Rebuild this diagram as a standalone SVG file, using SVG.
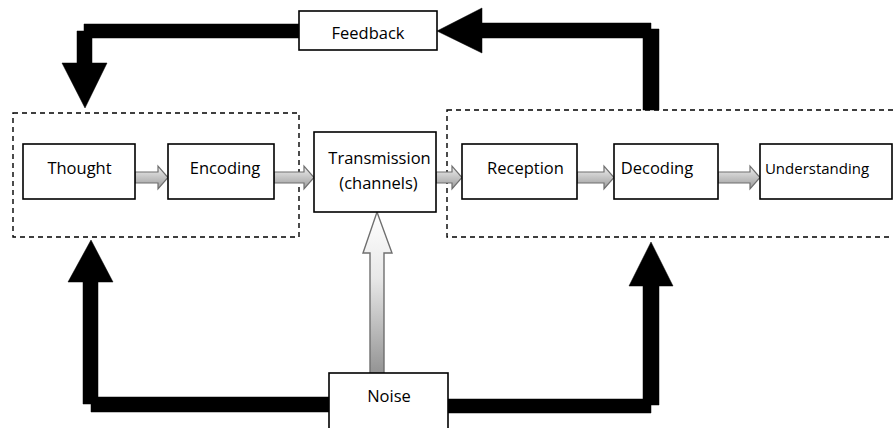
<svg xmlns="http://www.w3.org/2000/svg" width="893" height="428" viewBox="0 0 893 428">
<defs>
<linearGradient id="gh" x1="0" y1="0" x2="0" y2="1">
<stop offset="0" stop-color="#f0f0f0"/>
<stop offset="0.5" stop-color="#c4c4c4"/>
<stop offset="1" stop-color="#9a9a9a"/>
</linearGradient>
<linearGradient id="gv" x1="0" y1="0" x2="0" y2="1">
<stop offset="0" stop-color="#ffffff"/>
<stop offset="0.4" stop-color="#e8e8e8"/>
<stop offset="1" stop-color="#909090"/>
</linearGradient>
<style>
.box{fill:#fff;stroke:#000;stroke-width:1.6}
.dash{fill:none;stroke:#000;stroke-width:1.4;stroke-dasharray:5,4}
.t{font-family:"Open Sans","Noto Sans","Liberation Sans",sans-serif;font-size:16.5px;fill:#000;text-anchor:middle}
.blk{fill:#000;stroke:#000;stroke-width:0.5}
.ga{fill:url(#gh);stroke:#6f6f6f;stroke-width:1.2}
.gu{fill:url(#gv);stroke:#6f6f6f;stroke-width:1.4}
</style>
</defs>
<rect width="893" height="428" fill="#fff"/>
<g id="groups">
<rect class="dash" x="13" y="113" width="286" height="124"/>
<rect class="dash" x="447" y="110" width="450" height="127"/>
</g>
<g id="connectors">
<polygon class="blk" points="299,24 84,24 84,31 77,31 77,63 62,63 85,108 107,63 92,63 92,38 299,38"/>
<polygon class="blk" points="659,110 659,29 651,29 651,23 482,23 482,8 437,31 482,53 482,38 643,38 643,110"/>
<polygon class="blk" points="329,397 98,397 98,282 113,282 91,240 68,282 83,282 83,404 91,404 91,412 329,412"/>
<polygon class="blk" points="448,399 643,399 643,286 629,286 651,242 673,286 659,286 659,405 651,405 651,413 448,413"/>
<polygon class="ga" points="135,172 158,172 158,166 168,177.5 158,189 158,183 135,183"/>
<polygon class="ga" points="274,172 304,172 304,166 314,177.5 304,189 304,183 274,183"/>
<polygon class="ga" points="436,172 452,172 452,166 462,177.5 452,189 452,183 436,183"/>
<polygon class="ga" points="577,172 604,172 604,166 614,177.5 604,189 604,183 577,183"/>
<polygon class="ga" points="718,172 750,172 750,166 760,177.5 750,189 750,183 718,183"/>
<polygon class="gu" points="370,377 370,253 363,253 377,212 392,253 384,253 384,377"/>
</g>
<g id="feedback">
<rect class="box" x="299" y="11" width="138" height="39"/>
<text class="t" x="368" y="39">Feedback</text>
</g>
<g id="thought">
<rect class="box" x="23" y="144" width="112" height="55"/>
<text class="t" x="79.5" y="174">Thought</text>
</g>
<g id="encoding">
<rect class="box" x="168" y="144" width="106" height="55"/>
<text class="t" x="225" y="174">Encoding</text>
</g>
<g id="transmission">
<rect class="box" x="314" y="132" width="122" height="80"/>
<text class="t" x="379.5" y="164">Transmission</text>
<text class="t" x="378.5" y="189">(channels)</text>
</g>
<g id="reception">
<rect class="box" x="462" y="144" width="115" height="55"/>
<text class="t" x="525.5" y="174">Reception</text>
</g>
<g id="decoding">
<rect class="box" x="614" y="144" width="104" height="55"/>
<text class="t" x="657" y="174">Decoding</text>
</g>
<g id="understanding">
<rect class="box" x="760" y="144" width="132" height="55"/>
<text class="t" x="817" y="174" style="font-size:15px">Understanding</text>
</g>
<g id="noise">
<rect class="box" x="329" y="373" width="119" height="60"/>
<text class="t" x="389" y="402">Noise</text>
</g>
</svg>
